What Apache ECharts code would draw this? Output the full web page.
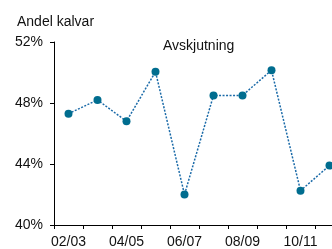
<!DOCTYPE html>
<html>
<head>
<meta charset="utf-8">
<script src="https://cdn.jsdelivr.net/npm/echarts@6/dist/echarts.min.js"></script>
<style>
  html, body { margin: 0; padding: 0; background: #fff; }
  #chart { width: 332px; height: 249px; }
</style>
</head>
<body>
<div id="chart"></div>
<script>
var seasons = ['02/03', '03/04', '04/05', '05/06', '06/07', '07/08', '08/09', '09/10', '10/11', '11/12'];
var avskjutning = [47.3, 48.2, 46.8, 50.05, 42.0, 48.5, 48.5, 50.15, 42.25, 43.9];
var yTicks = [40, 44, 48, 52];

var myChart = echarts.init(document.getElementById('chart'));
var font = 'Liberation Sans, Arial, sans-serif';
var option = {
  animation: false,
  textStyle: { fontFamily: font },
  title: [
    { text: 'Andel kalvar', left: 12, top: 10, textStyle: { fontSize: 14, fontWeight: 'normal', color: '#111', fontFamily: font } },
    { text: 'Avskjutning', left: 158, top: 34, textStyle: { fontSize: 14, fontWeight: 'normal', color: '#111', fontFamily: font } }
  ],
  grid: { left: 54, right: -12, top: 42, bottom: 24, containLabel: false, outerBoundsMode: 'none' },
  xAxis: {
    type: 'category',
    data: seasons,
    boundaryGap: true,
    axisLine: { lineStyle: { color: '#000', width: 1 } },
    axisTick: { show: true, interval: 0, length: 4, lineStyle: { color: '#000' } },
    axisLabel: { interval: 1, color: '#111', fontSize: 14, margin: 10 },
    splitLine: { show: false }
  },
  yAxis: {
    type: 'value',
    min: yTicks[0],
    max: yTicks[yTicks.length - 1],
    interval: 4,
    axisLine: { show: true, lineStyle: { color: '#000', width: 1 } },
    axisTick: { show: true, length: 4, lineStyle: { color: '#000' } },
    axisLabel: { color: '#111', fontSize: 14, margin: 11, formatter: '{value}%' },
    splitLine: { show: false }
  },
  series: [{
    name: 'Avskjutning',
    type: 'line',
    data: avskjutning,
    symbol: 'circle',
    symbolSize: 8,
    itemStyle: { color: '#006d8f' },
    lineStyle: { color: '#1a6aa8', width: 1.5, type: [2, 1.5] }
  }]
};
myChart.setOption(option);
window.onresize = myChart.resize;
</script>
</body>
</html>
